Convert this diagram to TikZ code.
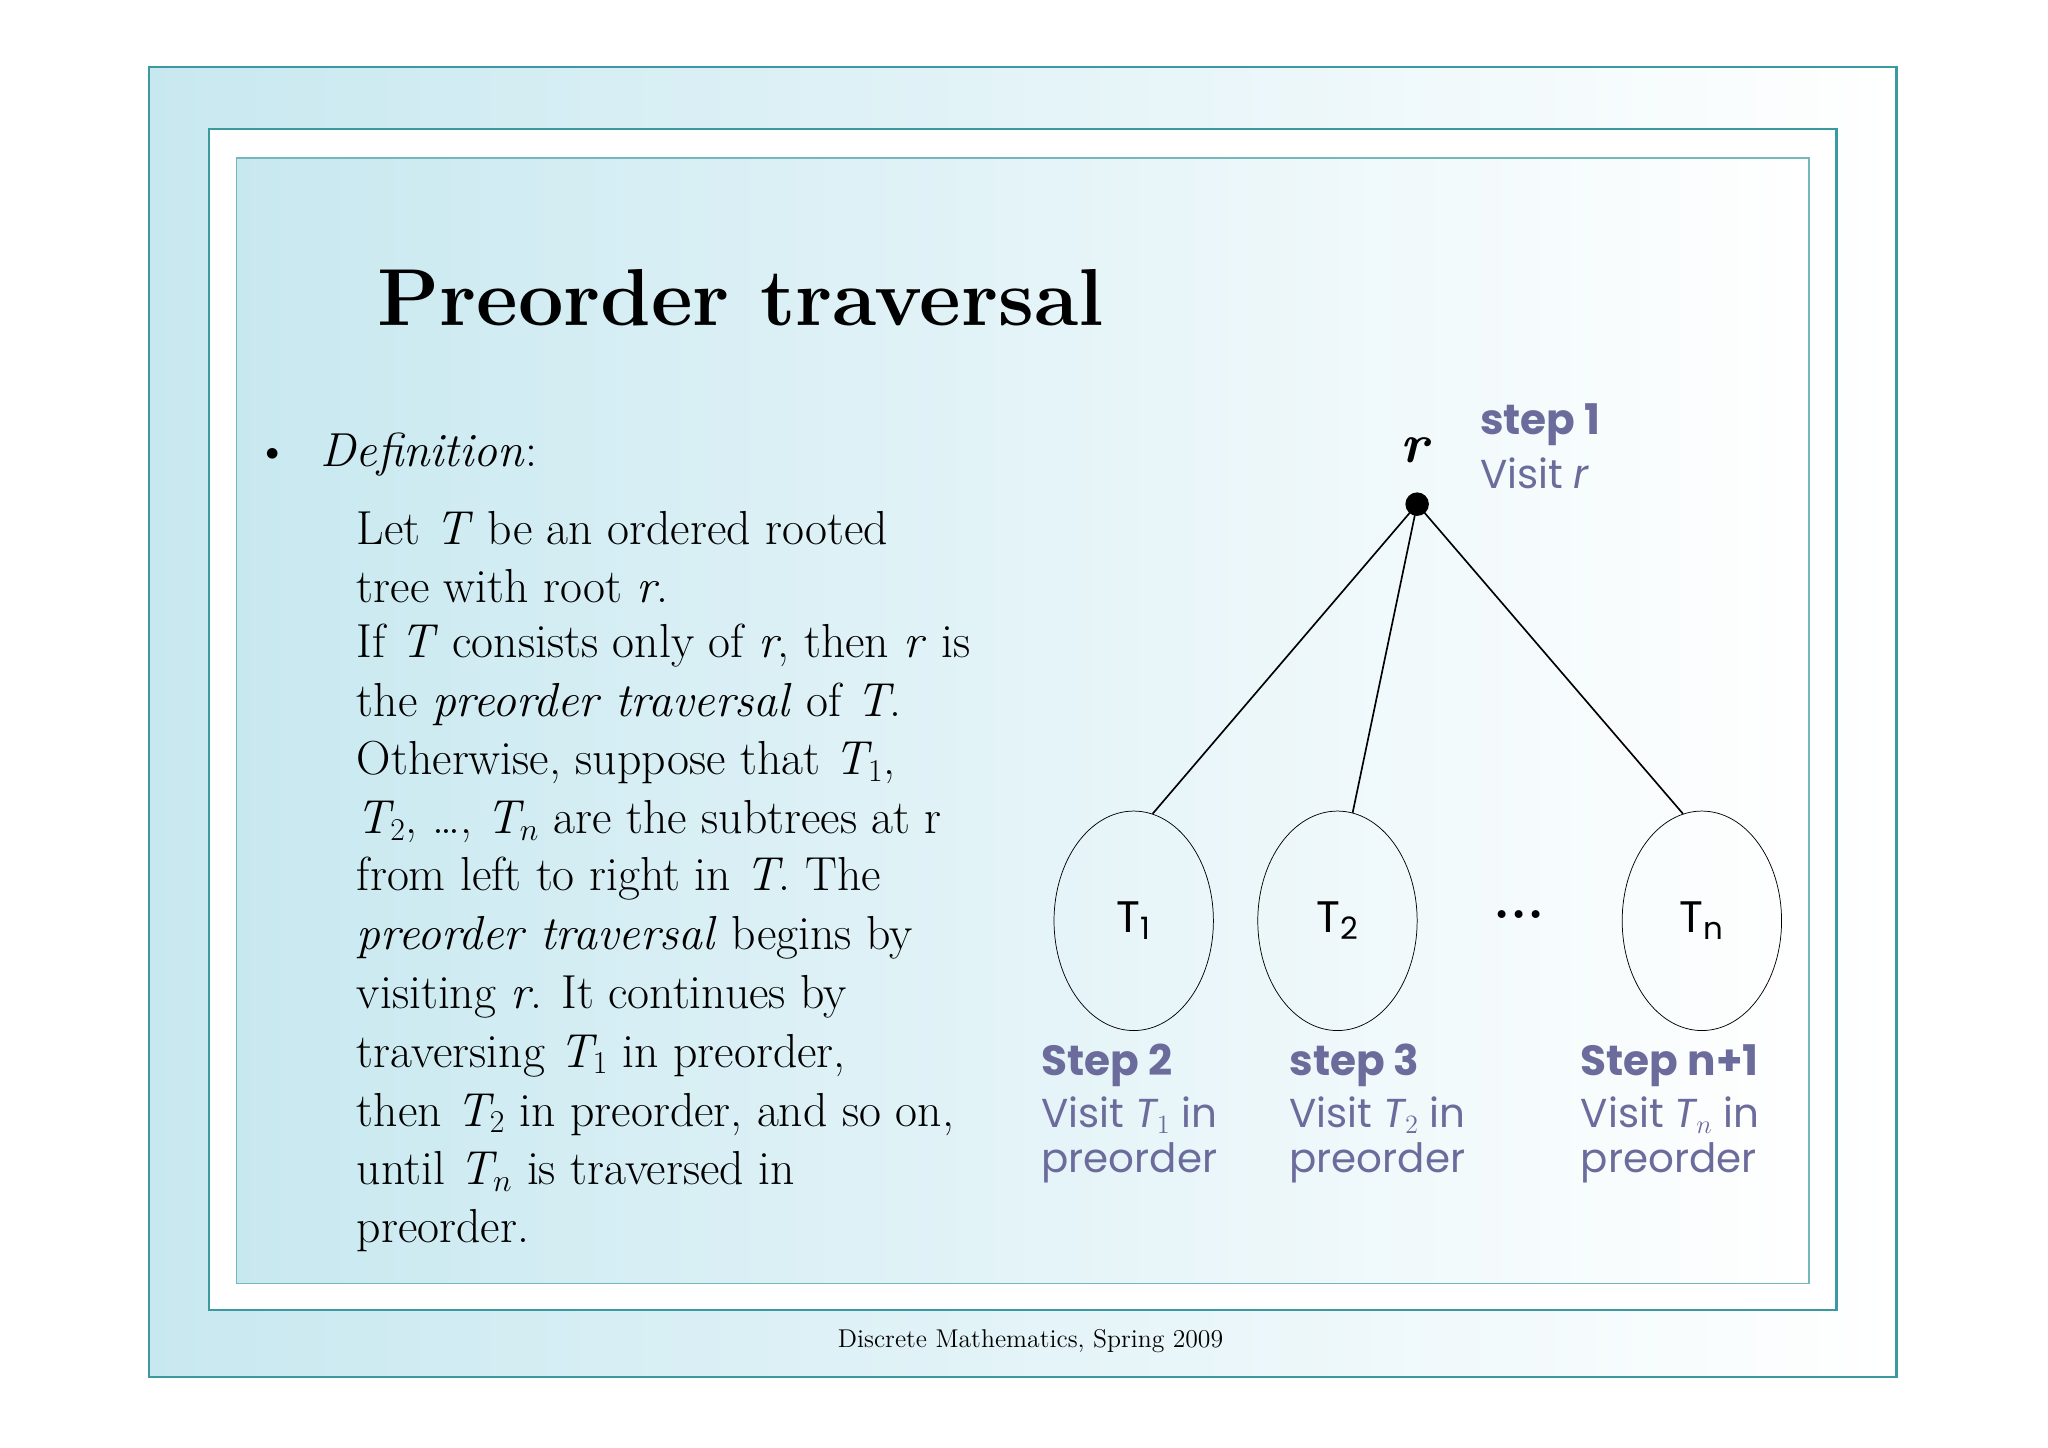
\documentclass[tikz,border=0pt]{standalone}
\usepackage{fontspec}
\newfontfamily\lab{Poppins}
\usetikzlibrary{shapes.geometric}
\definecolor{teal1}{HTML}{3A9AA0}
\definecolor{cyanbg}{HTML}{C8E8F0}
\definecolor{labc}{HTML}{6C6C9C}
\tikzset{
 body/.style={anchor=west,inner sep=0,font=\fontsize{26}{30}\selectfont},
 lbl/.style={anchor=west,inner sep=0,text=labc,font=\lab\fontsize{22}{26}\selectfont},
 lblb/.style={lbl,font=\lab\bfseries\fontsize{23}{26}\selectfont},
 sub/.style={draw,ellipse,minimum width=3.05cm,minimum height=4.2cm,inner sep=0,font=\lab\fontsize{24}{26}\selectfont},
}
\begin{document}
\begin{tikzpicture}[x=0.025cm,y=-0.025cm]
\useasboundingbox (0,0) rectangle (1568,1108);
\fill[white] (0,0) rectangle (1568,1108);
\shade[left color=cyanbg,right color=white,draw=teal1,line width=1.2pt] (114,51) rectangle (1452,1054);
\draw[teal1,line width=1.2pt,fill=white] (160,99) rectangle (1406,1003);
\shade[left color=cyanbg,right color=white] (181,121) rectangle (1385,983);
\draw[teal1!70,line width=0.6pt] (181,121) rectangle (1385,983);
\node[inner sep=0,font=\bfseries\fontsize{44}{50}\selectfont] (title) at (567,228) {Preorder traversal};
\node[body] (bul) at (195,350) {\textbullet};
\node[body] (def) at (245,348) {\textit{Definition}:};
\node[body] (l1) at (273,404) {Let \textit{T} be an ordered rooted};
\node[body] (l2) at (273,449) {tree with root \textit{r}.};
\node[body] (l3) at (273,494) {If \textit{T} consists only of \textit{r}, then \textit{r} is};
\node[body] (l4) at (273,539) {the \textit{preorder traversal} of \textit{T}.};
\node[body] (l5) at (273,584) {Otherwise, suppose that \textit{T$_1$},};
\node[body] (l6) at (273,629) {\textit{T$_2$}, \dots, \textit{T$_n$} are the subtrees at r};
\node[body] (l7) at (273,673) {from left to right in \textit{T}. The};
\node[body] (l8) at (273,718) {\textit{preorder traversal} begins by};
\node[body] (l9) at (273,763) {visiting \textit{r}. It continues by};
\node[body] (l10) at (273,808) {traversing \textit{T$_1$} in preorder,};
\node[body] (l11) at (273,853) {then \textit{T$_2$} in preorder, and so on,};
\node[body] (l12) at (273,897) {until \textit{T$_n$} is traversed in};
\node[body] (l13) at (273,942) {preorder.};
\node[inner sep=0,font=\fontsize{14}{16}\selectfont] (foot) at (789,1027) {Discrete Mathematics, Spring 2009};
% tree
\node[circle,fill=black,inner sep=0,minimum size=0.45cm] (r) at (1085,386) {};
\node[inner sep=0,font=\bfseries\itshape\fontsize{30}{32}\selectfont] (rl) at (1083,345) {r};
\node[sub] (t1) at (868,705) {T\textsubscript{1}};
\node[sub] (t2) at (1024,705) {T\textsubscript{2}};
\node[sub] (tn) at (1303,705) {T\textsubscript{n}};
\node[inner sep=0,font=\bfseries\fontsize{30}{32}\selectfont] (dots) at (1163,700) {...};
\draw[line width=0.9pt] (r.center) -- (t1.80);
\draw[line width=0.9pt] (r.center) -- (t2.82);
\draw[line width=0.9pt] (r.center) -- (tn.100);
\node[lblb] (s1) at (1133,325) {step 1};
\node[lbl] (v1) at (1133,362) {Visit \textit{r}};
\node[lblb] (s2) at (797,816) {Step 2};
\node[lbl] (v2) at (797,854) {Visit \textit{T$_1$} in};
\node[lbl] (p2) at (797,890) {preorder};
\node[lblb] (s3) at (987,816) {step 3};
\node[lbl] (v3) at (987,854) {Visit \textit{T$_2$} in};
\node[lbl] (p3) at (987,890) {preorder};
\node[lblb] (sn) at (1210,816) {Step n+1};
\node[lbl] (vn) at (1210,854) {Visit \textit{T$_n$} in};
\node[lbl] (pn) at (1210,890) {preorder};
\end{tikzpicture}
\end{document}
